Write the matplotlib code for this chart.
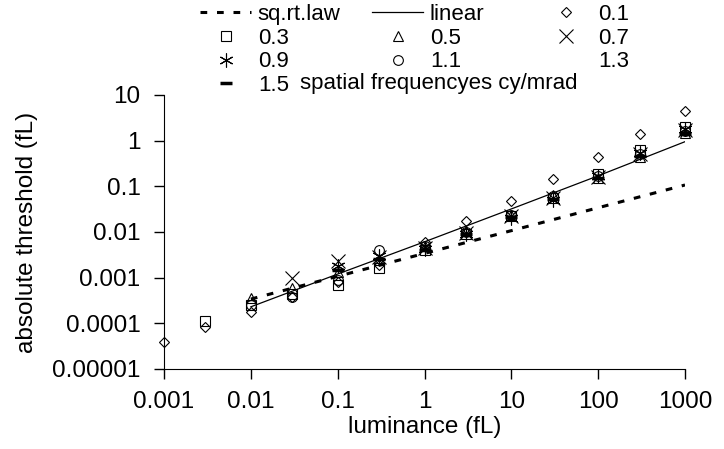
import matplotlib
matplotlib.use("Agg")
import matplotlib.pyplot as plt
from matplotlib.lines import Line2D
import numpy as np

plt.rcParams['font.family'] = ['Liberation Sans', 'DejaVu Sans']

# luminance (fL)
lum = [0.001, 0.003, 0.01, 0.03, 0.1, 0.3, 1, 3, 10, 30, 100, 300, 1000]

# absolute threshold (fL) per spatial frequency (cy/mrad), None = no point
sf_01 = [4e-5, 8.5e-5, 1.8e-4, 3.8e-4, 8e-4, 1.9e-3, 6e-3, 1.7e-2, 4.7e-2, 0.145, 0.45, 1.4, 4.5]
sf_03 = [None, 1.15e-4, 2.5e-4, 4.5e-4, 7e-4, 1.6e-3, 4e-3, 9e-3, 2.2e-2, 5.5e-2, 0.19, 0.62, 2.0]
sf_05 = [None, None, 3.6e-4, 6e-4, 1.3e-3, 2.4e-3, 5e-3, 1.05e-2, 2.4e-2, 6.5e-2, 0.15, 0.45, 1.5]
sf_07 = [None, None, None, 1.0e-3, 2.3e-3, 2.8e-3, 4.5e-3, 9.5e-3, 2.2e-2, 5.5e-2, 0.16, 0.5, 1.7]
sf_09 = [None, None, None, None, 1.8e-3, 3e-3, 4.2e-3, 9e-3, 2e-2, 5e-2, 0.17, 0.55, 1.8]
sf_11 = [None, None, 2.5e-4, 3.8e-4, 9e-4, 4e-3, 5e-3, 1e-2, 2.3e-2, 6e-2, 0.17, 0.5, 1.6]
sf_15 = [None, None, None, None, 1.5e-3, 2.6e-3, 4e-3, 9e-3, 2.1e-2, 5.2e-2, 0.15, 0.46, 1.4]

# reference lines
line_lum = [0.01, 0.1, 1, 10, 100, 1000]
sqrt_law = [3.4e-4, 1.07e-3, 3.4e-3, 1.07e-2, 3.4e-2, 0.107]
linear = [2.3e-4, 1.2e-3, 6.1e-3, 3.2e-2, 0.17, 0.95]

xticks = [0.001, 0.01, 0.1, 1, 10, 100, 1000]
xlabels = ['0.001', '0.01', '0.1', '1', '10', '100', '1000']
yticks = [1e-5, 1e-4, 1e-3, 1e-2, 1e-1, 1, 10]
ylabels = ['0.00001', '0.0001', '0.001', '0.01', '0.1', '1', '10']


def pts(vals):
    x = [l for l, v in zip(lum, vals) if v is not None]
    y = [v for v in vals if v is not None]
    return x, y


fig = plt.figure(figsize=(7.24, 4.49), dpi=100)
ax = fig.add_axes([164 / 724, 1 - 369 / 449, (685 - 164) / 724, (369 - 95) / 449])

mk = dict(linestyle='none', markerfacecolor='none', markeredgecolor='black',
          markeredgewidth=0.8, color='black', clip_on=False)

h_sq, = ax.plot(line_lum, sqrt_law, color='black', lw=2.2, dashes=(2.2, 3.2))
h_lin, = ax.plot(line_lum, linear, color='black', lw=0.9)
h01, = ax.plot(*pts(sf_01), marker='D', markersize=5.5, **mk)
h03, = ax.plot(*pts(sf_03), marker='s', markersize=6.5, **mk)
h05, = ax.plot(*pts(sf_05), marker='^', markersize=7, **mk)
h07, = ax.plot(*pts(sf_07), marker='x', markersize=10, **mk)
h09, = ax.plot(*pts(sf_09), marker=(6, 2, 0), markersize=10, **mk)
h11, = ax.plot(*pts(sf_11), marker='o', markersize=7, **mk)
h13 = Line2D([], [], linestyle='none', marker='none')
h15, = ax.plot(*pts(sf_15), marker='_', markersize=8,
               linestyle='none', color='black', markeredgewidth=2.5, clip_on=False)

ax.set_xscale('log')
ax.set_yscale('log')
ax.set_xlim(0.001, 1000)
ax.set_ylim(1e-5, 10)
ax.set_xticks(xticks)
ax.set_xticklabels(xlabels)
ax.set_yticks(yticks)
ax.set_yticklabels(ylabels)
ax.minorticks_off()
ax.tick_params(axis='both', labelsize=17.5, length=7, width=1, direction='out')
ax.tick_params(axis='x', pad=9)
ax.tick_params(axis='y', pad=10)
for s in ['top', 'right']:
    ax.spines[s].set_visible(False)
ax.set_xlabel('luminance (fL)', fontsize=17.5, labelpad=2)
ax.set_ylabel('absolute threshold (fL)', fontsize=17.5, labelpad=10)

# legend: three columns placed like the original
cols = [
    ([h_sq, h03, h09, h15], ['sq.rt.law', '0.3', '0.9', '1.5']),
    ([h_lin, h05, h11], ['linear', '0.5', '1.1']),
    ([h01, h07, h13], ['0.1', '0.7', '1.3']),
]
xs = [200, 372, 540]
for (hs, ls), x0 in zip(cols, xs):
    leg = fig.legend(hs, ls, loc='upper left', bbox_to_anchor=(x0 / 724, 1 - 4 / 449),
                     frameon=False, fontsize=16, borderpad=0, borderaxespad=0,
                     handlelength=2.3, handletextpad=0.3, labelspacing=0.12)
fig.text(300 / 724, 1 - 83 / 449, 'spatial frequencyes cy/mrad', fontsize=16,
         va='center', ha='left')

fig.savefig('out.png', dpi=100)
